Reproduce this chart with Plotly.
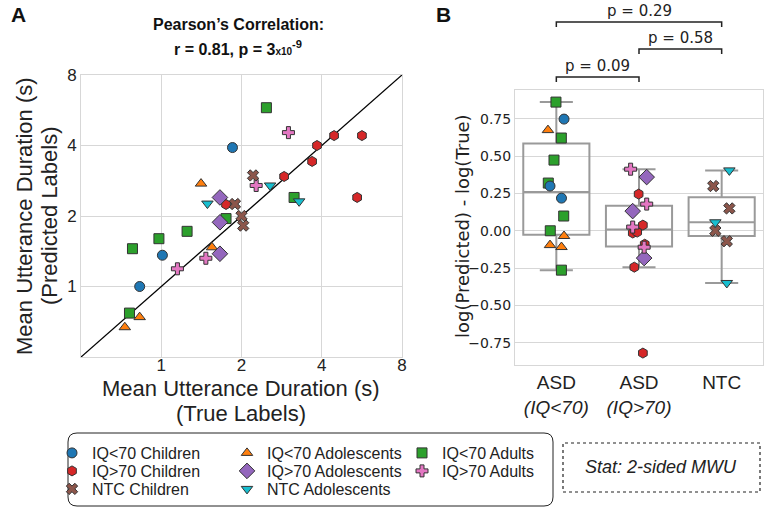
import numpy as np
import plotly.graph_objects as go

# ---------------- data ----------------
GROUPS = [
    "IQ<70 Children", "IQ<70 Adolescents", "IQ<70 Adults",
    "IQ>70 Children", "IQ>70 Adolescents", "IQ>70 Adults",
    "NTC Children", "NTC Adolescents",
]

# panel A: mean utterance duration (s), true vs predicted
true_iq70_children = [1.85, 1.01, 0.83]
pred_iq70_children = [3.92, 1.36, 1.00]
true_iqhi_children = [2.89, 3.68, 3.84, 4.45, 5.66, 5.43, 1.75]
pred_iqhi_children = [2.95, 3.42, 4.00, 4.41, 4.41, 2.40, 2.24]
true_ntc_children = [2.21, 1.89, 2.00, 2.03]
pred_ntc_children = [2.98, 2.25, 2.00, 1.82]
true_iq70_adol = [1.41, 1.55, 0.83, 0.73]
pred_iq70_adol = [2.75, 1.47, 0.74, 0.67]
true_iqhi_adol = [1.66, 1.66, 1.66]
pred_iqhi_adol = [2.40, 1.88, 1.38]
true_ntc_adol = [2.56, 3.29, 1.49]
pred_ntc_adol = [2.70, 2.31, 2.26]
true_iq70_adults = [2.48, 3.15, 1.75, 1.25, 0.98, 0.78, 0.76]
pred_iq70_adults = [5.80, 2.40, 1.95, 1.72, 1.60, 1.45, 0.77]
true_iqhi_adults = [3.00, 2.27, 1.47, 1.15]
pred_iqhi_adults = [4.54, 2.70, 1.32, 1.19]

# panel B: log(Predicted) - log(True)
CATS = ["ASD<br><i>(IQ&lt;70)</i>", "ASD<br><i>(IQ&gt;70)</i>", "NTC"]
diff_iq70_children = [0.749, 0.300, 0.219]
diff_iq70_adol = [0.675, -0.035, -0.096, -0.109]
diff_iq70_adults = [0.863, 0.622, 0.474, 0.320, 0.099, 0.000, -0.264]
diff_iqhi_children = [0.246, 0.038, -0.009, -0.015, -0.090, -0.244, -0.820]
diff_iqhi_adol = [0.360, 0.132, -0.183]
diff_iqhi_adults = [0.413, 0.179, 0.025, -0.110]
diff_ntc_children = [0.300, 0.150, 0.000, -0.070]
diff_ntc_adol = [0.405, 0.057, -0.350]

P_VALUES = ["p = 0.09", "p = 0.58", "p = 0.29"]

# ---------------- style ----------------
BLUE = "#1f77b4"
ORANGE = "#ff7f0e"
GREEN = "#2ca02c"
RED = "#d62728"
PURPLE = "#9467bd"
BROWN = "#8c564b"
PINK = "#e377c2"
CYAN = "#17becf"
GRID = "#d7d7d7"
INK = "#222222"
ARIAL = "Liberation Sans, Arial, sans-serif"
DEJAVU = "DejaVu Sans, sans-serif"

W, H = 767, 511


def px(x):
    return x / W


def py(y):
    return 1 - y / H


# one legend per row of the legend box
STYLE = {
    "IQ<70 Children": dict(symbol="circle", color=BLUE, size=10, legend="legend"),
    "IQ<70 Adolescents": dict(symbol="triangle-up", color=ORANGE, size=10, legend="legend"),
    "IQ<70 Adults": dict(symbol="square", color=GREEN, size=10, legend="legend"),
    "IQ>70 Children": dict(symbol="hexagon", color=RED, size=10, legend="legend2"),
    "IQ>70 Adolescents": dict(symbol="diamond", color=PURPLE, size=12, legend="legend2"),
    "IQ>70 Adults": dict(symbol="cross", color=PINK, size=10, legend="legend2"),
    "NTC Children": dict(symbol="x", color=BROWN, size=10, legend="legend3"),
    "NTC Adolescents": dict(symbol="triangle-down", color=CYAN, size=10, legend="legend3"),
}

scatter_data = {
    "IQ<70 Children": (true_iq70_children, pred_iq70_children),
    "IQ>70 Children": (true_iqhi_children, pred_iqhi_children),
    "NTC Children": (true_ntc_children, pred_ntc_children),
    "IQ<70 Adolescents": (true_iq70_adol, pred_iq70_adol),
    "IQ>70 Adolescents": (true_iqhi_adol, pred_iqhi_adol),
    "NTC Adolescents": (true_ntc_adol, pred_ntc_adol),
    "IQ<70 Adults": (true_iq70_adults, pred_iq70_adults),
    "IQ>70 Adults": (true_iqhi_adults, pred_iqhi_adults),
}

strip_data = {
    "IQ<70 Children": (0, diff_iq70_children),
    "IQ<70 Adolescents": (0, diff_iq70_adol),
    "IQ<70 Adults": (0, diff_iq70_adults),
    "IQ>70 Children": (1, diff_iqhi_children),
    "IQ>70 Adolescents": (1, diff_iqhi_adol),
    "IQ>70 Adults": (1, diff_iqhi_adults),
    "NTC Children": (2, diff_ntc_children),
    "NTC Adolescents": (2, diff_ntc_adol),
}

fig = go.Figure()

# identity line
fig.add_trace(go.Scatter(
    x=[0.5, 8], y=[0.5, 8], mode="lines",
    line=dict(color="black", width=1.3),
    showlegend=False, hoverinfo="skip",
    xaxis="x", yaxis="y",
))

for name in GROUPS:
    st = STYLE[name]
    xs, ys = scatter_data[name]
    fig.add_trace(go.Scatter(
        x=xs, y=ys, mode="markers", name=name,
        legend=st["legend"],
        marker=dict(symbol=st["symbol"], color=st["color"], size=st["size"],
                    line=dict(color="#333333", width=1)),
        xaxis="x", yaxis="y",
    ))

# box statistics (matplotlib style: linear percentiles, 1.5 IQR whiskers)
cat_vals = [[], [], []]
for name in GROUPS:
    c, vals = strip_data[name]
    cat_vals[c] += vals

q1s, meds, q3s, lows, highs = [], [], [], [], []
for vals in cat_vals:
    a = np.array(vals)
    q1, med, q3 = np.percentile(a, [25, 50, 75])
    iqr = q3 - q1
    q1s.append(q1)
    meds.append(med)
    q3s.append(q3)
    lows.append(a[a >= q1 - 1.5 * iqr].min())
    highs.append(a[a <= q3 + 1.5 * iqr].max())

fig.add_trace(go.Box(
    x=[0, 1, 2], q1=q1s, median=meds, q3=q3s,
    lowerfence=lows, upperfence=highs,
    width=0.8, whiskerwidth=0.5, boxpoints=False,
    fillcolor="rgba(255,255,255,0)",
    line=dict(color="#9a9a9a", width=2),
    showlegend=False, xaxis="x2", yaxis="y2",
))

for name in ["IQ<70 Adults", "IQ<70 Adolescents", "IQ<70 Children",
             "IQ>70 Children", "IQ>70 Adolescents", "IQ>70 Adults",
             "NTC Children", "NTC Adolescents"]:
    st = STYLE[name]
    c, vals = strip_data[name]
    fig.add_trace(go.Box(
        x=[c] * len(vals), y=vals,
        boxpoints="all", jitter=0.3, pointpos=0, width=0.8,
        fillcolor="rgba(0,0,0,0)", line=dict(width=0, color="rgba(0,0,0,0)"),
        marker=dict(symbol=st["symbol"], color=st["color"], size=st["size"],
                    line=dict(color="#333333", width=1)),
        showlegend=False, hoverinfo="y", xaxis="x2", yaxis="y2",
    ))

axis_common = dict(
    showgrid=True, gridcolor=GRID, gridwidth=1,
    showline=True, linecolor=GRID, linewidth=1, mirror=True,
    zeroline=False, ticks="",
)

legend_common = dict(
    orientation="h", bgcolor="rgba(0,0,0,0)", borderwidth=0,
    font=dict(family=ARIAL, size=16, color=INK),
    itemsizing="trace", entrywidth=130, entrywidthmode="pixels",
    yanchor="middle", xanchor="left", x=px(52),
)

fig.update_layout(
    width=W, height=H,
    margin=dict(l=0, r=0, t=0, b=0, autoexpand=False),
    paper_bgcolor="white", plot_bgcolor="white",
    font=dict(family=ARIAL, color=INK),
    boxmode="overlay",
    xaxis=dict(
        axis_common, domain=[px(81), px(402)], anchor="y",
        type="log", range=[np.log10(0.5), np.log10(8)],
        tickvals=[1, 2, 4, 8], ticklabelstandoff=-7,
        tickfont=dict(family=ARIAL, size=17, color=INK),
    ),
    yaxis=dict(
        axis_common, domain=[py(357), py(75)], anchor="x",
        type="log", range=[np.log10(0.5), np.log10(8)],
        tickvals=[1, 2, 4, 8],
        tickfont=dict(family=ARIAL, size=17, color=INK),
    ),
    xaxis2=dict(
        axis_common, showgrid=False, domain=[px(515), px(763)], anchor="y2",
        range=[-0.5, 2.5], tickvals=[0, 1, 2], ticktext=CATS,
        tickfont=dict(family=ARIAL, size=19, color=INK),
    ),
    yaxis2=dict(
        axis_common, domain=[py(365), py(90)], anchor="x2",
        range=[-0.90, 0.944], tickvals=[-0.75, -0.5, -0.25, 0, 0.25, 0.5, 0.75],
        tickformat=".2f",
        tickfont=dict(family=DEJAVU, size=14, color=INK),
    ),
    legend=dict(legend_common, y=py(453)),
    legend2=dict(legend_common, y=py(471)),
    legend3=dict(legend_common, y=py(489)),
)


def label(text, x, y, size, family=ARIAL, angle=0, color=INK):
    fig.add_annotation(
        text=text, x=px(x), y=py(y), xref="paper", yref="paper",
        showarrow=False, xanchor="center", yanchor="middle", textangle=angle,
        font=dict(family=family, size=size, color=color),
    )


# title, panel letters, axis titles
label("<b>Pearson’s Correlation:</b>", 238, 25, 16, color="#111")
label("<b>r = 0.81, p = 3<span style='font-size:10px'>x10</span><sup>-9</sup></b>",
      238, 48, 16, color="#111")
label("<b>A</b>", 18, 14, 21, color="#111")
label("<b>B</b>", 443, 14, 21, color="#111")

label("Mean Utterance Duration (s)", 241, 388, 22)
label("(True Labels)", 241, 413, 22)
label("Mean Utterance Duration (s)", 24, 216, 22, angle=-90)
label("(Predicted Labels)", 49, 216, 22, angle=-90)
label("log(Predicted) - log(True)", 462, 226, 18, family=DEJAVU, angle=-90)

# significance brackets
brackets = [(0, 1, 77, 66), (1, 2, 49, 38), (0, 2, 22, 11)]
for (a, b, yb, yt), text in zip(brackets, P_VALUES):
    fig.add_shape(
        type="path", xref="x2", yref="paper",
        path=f"M {a},{py(yb + 5)} L {a},{py(yb)} L {b},{py(yb)} L {b},{py(yb + 5)}",
        line=dict(color=INK, width=1.5),
    )
    fig.add_annotation(
        text=text, x=(a + b) / 2, y=py(yt), xref="x2", yref="paper",
        showarrow=False, yanchor="middle",
        font=dict(family=DEJAVU, size=15, color=INK),
    )

# legend frame (rounded)
x0, x1, y0, y1, r = 68, 553, 433, 506, 9
fig.add_shape(
    type="path", xref="paper", yref="paper",
    path=(f"M {px(x0 + r)},{py(y0)} L {px(x1 - r)},{py(y0)} "
          f"Q {px(x1)},{py(y0)} {px(x1)},{py(y0 + r)} L {px(x1)},{py(y1 - r)} "
          f"Q {px(x1)},{py(y1)} {px(x1 - r)},{py(y1)} L {px(x0 + r)},{py(y1)} "
          f"Q {px(x0)},{py(y1)} {px(x0)},{py(y1 - r)} L {px(x0)},{py(y0 + r)} "
          f"Q {px(x0)},{py(y0)} {px(x0 + r)},{py(y0)} Z"),
    line=dict(color=INK, width=1),
)

# stat box
fig.add_shape(type="rect", xref="paper", yref="paper",
              x0=px(563), x1=px(760), y0=py(492), y1=py(443),
              line=dict(color=INK, width=1.2, dash="dot"))
label("<i>Stat: 2-sided MWU</i>", 661, 467, 18)

# the page's default 8px body margin would push the figure off its corner
fig.write_html(
    "out.html",
    config={"displayModeBar": False},
    post_script="document.body.style.margin = '0';",
)
